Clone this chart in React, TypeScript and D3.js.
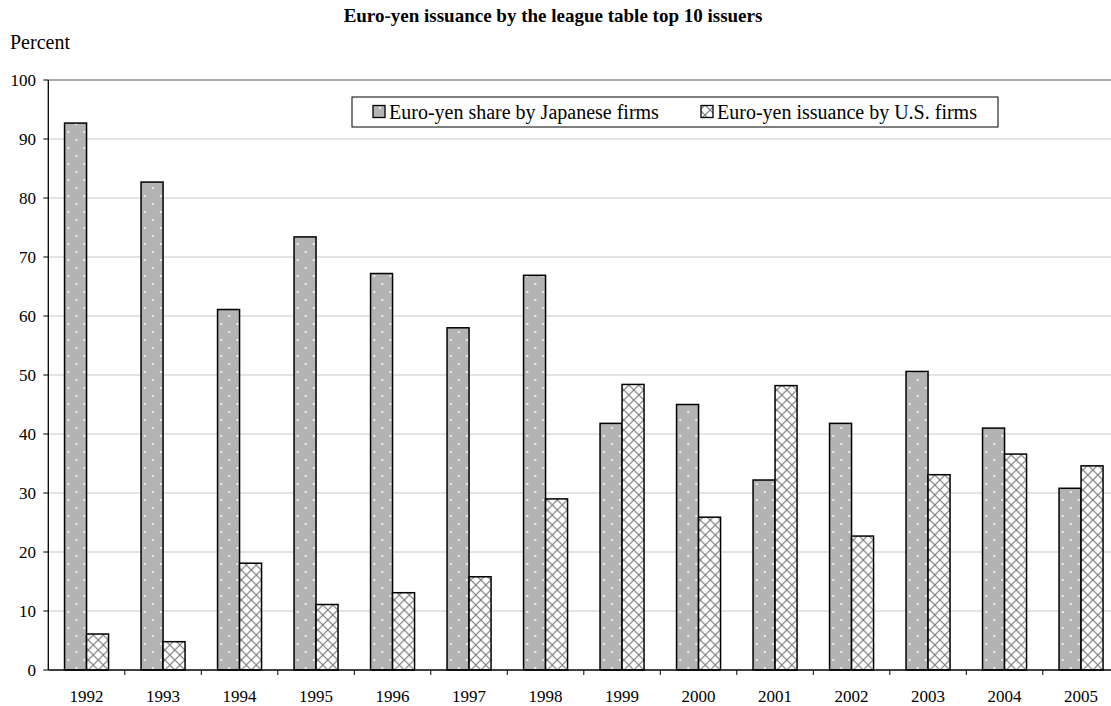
import React from "react";
import * as d3 from "d3";

const years = ["1992","1993","1994","1995","1996","1997","1998","1999","2000","2001","2002","2003","2004","2005"];
const japanShare = [92.7, 82.7, 61.1, 73.4, 67.2, 58.0, 66.9, 41.8, 45.0, 32.2, 41.8, 50.6, 41.0, 30.8];
const usIssuance = [6.1, 4.8, 18.1, 11.1, 13.1, 15.8, 29.0, 48.4, 25.9, 48.2, 22.7, 33.1, 36.6, 34.6];
const seriesNames = ["Euro-yen share by Japanese firms", "Euro-yen issuance by U.S. firms"];
const yTicks = [0, 10, 20, 30, 40, 50, 60, 70, 80, 90, 100];
const title = "Euro-yen issuance by the league table top 10 issuers";
const yLabel = "Percent";

const W = 1111, H = 706;
const left = 48.3, band = 76.5, top = 80, bottom = 670;
const FONT = "'Liberation Serif', 'Times New Roman', serif";

export default function App() {
  const x = d3.scaleBand<string>().domain(years).range([left, left + band * years.length]).padding(0);
  const groupW = 44;
  const x1 = d3.scaleBand<string>().domain(["jp", "us"]).range([(band - groupW) / 2, (band + groupW) / 2]).padding(0);
  const y = d3.scaleLinear().domain([0, 100]).range([bottom, top]);
  const fills = { jp: "url(#dots)", us: "url(#hatch)" };
  const data = years.map((yr, i) => ({ yr, jp: japanShare[i], us: usIssuance[i] }));

  return (
    <svg width={W} height={H} style={{ position: "absolute", left: 0, top: 0, background: "#fff" }} fontFamily={FONT}>
      <defs>
        <pattern id="dots" width="16" height="16" patternUnits="userSpaceOnUse">
          <rect width="16" height="16" fill="#b3b3b3" />
          <circle cx="4" cy="4" r="1" fill="#ffffff" />
          <circle cx="12" cy="12" r="1" fill="#ffffff" />
        </pattern>
        <pattern id="hatch" width="10" height="10" patternUnits="userSpaceOnUse">
          <rect width="10" height="10" fill="#ffffff" />
          <path d="M0,0 L10,10 M10,0 L0,10" stroke="#7a7a7a" strokeWidth="1.2" />
        </pattern>
      </defs>
      <rect width={W} height={H} fill="#fff" />
      <text x={553} y={22} textAnchor="middle" fontWeight="bold" fontSize={19}>{title}</text>
      <text x={10} y={49} fontSize={20}>{yLabel}</text>

      {yTicks.filter(t => t > 0 && t < 100).map(t => (
        <line key={"g" + t} x1={left} x2={W} y1={y(t)} y2={y(t)} stroke="#c8c8c8" strokeWidth={1} />
      ))}
      <line x1={left} x2={W} y1={y(100)} y2={y(100)} stroke="#8c8c8c" strokeWidth={1.5} />

      {data.map(d => (
        <g key={d.yr} transform={`translate(${x(d.yr)},0)`}>
          {(["jp", "us"] as const).map(k => (
            <rect key={k} x={x1(k)} y={y(d[k])} width={x1.bandwidth()} height={y(0) - y(d[k])}
              fill={fills[k]} stroke="#000" strokeWidth={1.5} />
          ))}
        </g>
      ))}

      <line x1={left} x2={left} y1={y(100)} y2={y(0)} stroke="#000" strokeWidth={1.3} />
      <line x1={left} x2={W} y1={y(0)} y2={y(0)} stroke="#000" strokeWidth={1.3} />
      {yTicks.map(t => (
        <g key={"t" + t}>
          <line x1={left - 5} x2={left} y1={y(t)} y2={y(t)} stroke="#000" />
          <text x={36} y={y(t) + 6} textAnchor="end" fontSize={17}>{t}</text>
        </g>
      ))}
      {years.map((yr, i) => (
        <g key={"x" + yr}>
          <line x1={left + band * (i + 1)} x2={left + band * (i + 1)} y1={y(0)} y2={y(0) + 5} stroke="#000" />
          <text x={(x(yr) as number) + band / 2} y={702} textAnchor="middle" fontSize={17}>{yr}</text>
        </g>
      ))}

      <rect x={352} y={97} width={646} height={30} fill="#fff" stroke="#000" strokeWidth={1} />
      <rect x={373} y={105.5} width={12} height={12} fill="url(#dots)" stroke="#000" strokeWidth={1.3} />
      <text x={389} y={119} fontSize={20}>{seriesNames[0]}</text>
      <rect x={701} y={105.5} width={12} height={12} fill="url(#hatch)" stroke="#000" strokeWidth={1.3} />
      <text x={717} y={119} fontSize={20}>{seriesNames[1]}</text>
    </svg>
  );
}
